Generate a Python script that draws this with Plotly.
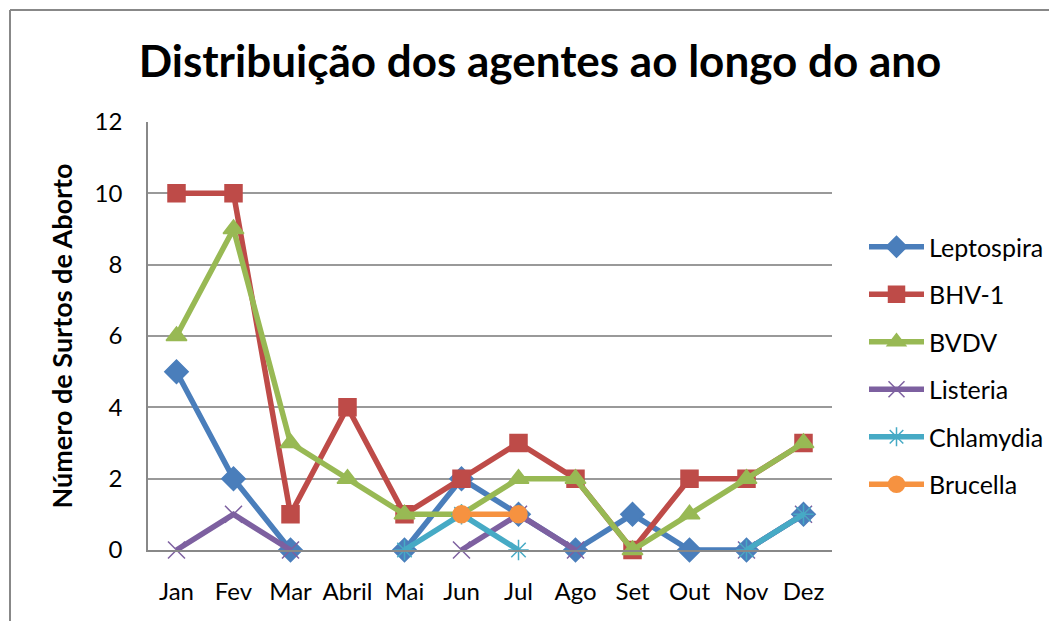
import plotly.graph_objects as go

meses = ["Jan", "Fev", "Mar", "Abril", "Mai", "Jun", "Jul", "Ago", "Set", "Out", "Nov", "Dez"]

leptospira = [5, 2, 0, None, 0, 2, 1, 0, 1, 0, 0, 1]
bhv1 = [10, 10, 1, 4, 1, 2, 3, 2, 0, 2, 2, 3]
bvdv = [6, 9, 3, 2, 1, 1, 2, 2, 0, 1, 2, 3]
listeria = [0, 1, 0, None, None, 0, 1, 0, None, None, 0, 1]
chlamydia = [None, None, None, None, 0, 1, 0, None, None, None, 0, 1]
brucella = [None, None, None, None, None, 1, 1, None, None, None, None, None]

series = [
    ("Leptospira", leptospira, "#4a7ebb", "diamond", 18),
    ("BHV-1", bhv1, "#be4b48", "square", 17),
    ("BVDV", bvdv, "#98b954", "triangle-up", 18),
    ("Listeria", listeria, "#7d60a0", "x-thin", 17),
    ("Chlamydia", chlamydia, "#46aac5", "asterisk", 17),
    ("Brucella", brucella, "#f69240", "circle", 17),
]

fig = go.Figure()
for nome, vals, cor, simbolo, tam in series:
    fig.add_trace(go.Scatter(
        x=meses, y=vals, name=nome, mode="lines+markers", legendgroup=nome,
        line=dict(color=cor, width=5.5),
        marker=dict(symbol=simbolo, size=tam, color=cor,
                    line=dict(color=cor, width=1.5)),
        connectgaps=False, cliponaxis=False,
    ))

# page has an 8px body margin, so figure coords = screen px - 8
OFF = 8
W, H = 1057 - 2 * OFF, 629 - 2 * OFF
L, R, T, B = 148 - OFF, 832 - OFF, 122 - OFF, 550 - OFF
pw, ph = R - L, B - T

def px_x(x):
    return (x - OFF - L) / pw

def px_y(y):
    return (B - (y - OFF)) / ph

# outer chart frame (left and top edges visible)
fig.add_shape(type="line", xref="paper", yref="paper",
              x0=px_x(10), x1=px_x(1070), y0=px_y(10), y1=px_y(10),
              line=dict(color="#888888", width=2))
fig.add_shape(type="line", xref="paper", yref="paper",
              x0=px_x(10), x1=px_x(10), y0=px_y(10), y1=px_y(650),
              line=dict(color="#888888", width=2))

fig.update_layout(
    width=W, height=H,
    margin=dict(l=L, r=W - R, t=T, b=H - B, autoexpand=False),
    paper_bgcolor="white", plot_bgcolor="white",
    font=dict(family="Lato, 'Open Sans', sans-serif", color="black", size=24),
    title=dict(text="<b>Distribuição dos agentes ao longo do ano</b>",
               x=(540 - OFF) / W, xanchor="center", xref="container",
               y=1 - (62 - OFF) / H, yanchor="middle",
               font=dict(size=44, family="Lato, 'Open Sans', sans-serif")),
    showlegend=True,
    legend=dict(x=px_x(864), y=px_y(224), xanchor="left", yanchor="top",
                font=dict(size=25), itemwidth=55, tracegroupgap=12,
                bgcolor="rgba(0,0,0,0)"),
)

fig.update_xaxes(
    type="category", range=[-0.5, len(meses) - 0.5],
    showgrid=False, showline=True, linecolor="#888888",
    linewidth=1.5, ticks="", tickfont=dict(size=24), ticklabelstandoff=19,
    zeroline=False, automargin=False,
)
fig.update_yaxes(
    range=[0, 12], dtick=2, showgrid=True, gridcolor="#999999", gridwidth=1.5,
    showline=True, linecolor="#888888", linewidth=1.5, zeroline=False,
    tickfont=dict(size=24), ticks="", ticklabelstandoff=19, automargin=False,
    title=dict(text="<b>Número de Surtos de Aborto</b>", font=dict(size=27),
               standoff=14),
)

fig.write_html("out.html")
